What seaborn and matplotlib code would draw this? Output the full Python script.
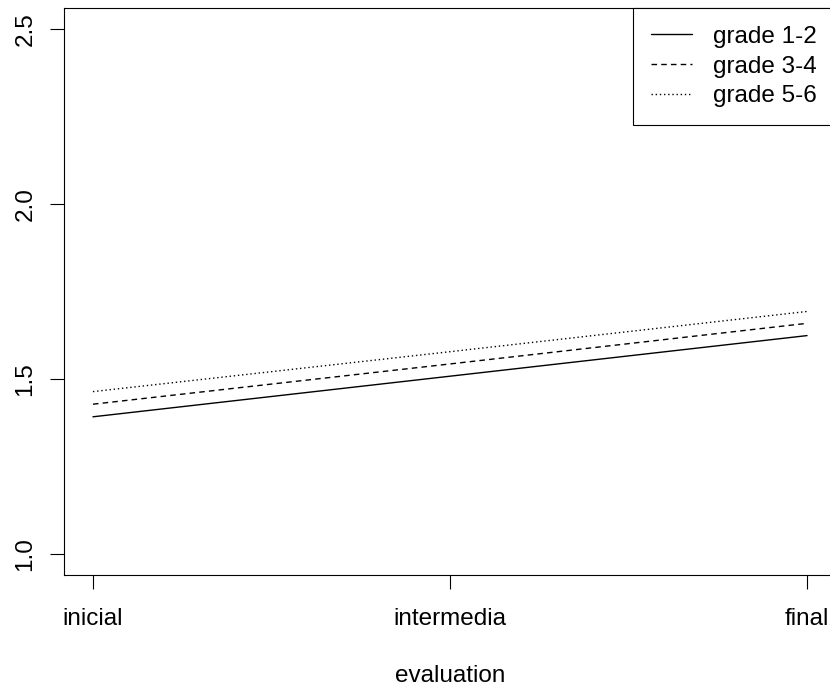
import pandas as pd
import matplotlib
matplotlib.use("Agg")
import matplotlib.pyplot as plt
import seaborn as sns

# values
evaluations = ["inicial", "intermedia", "final"]
grades = ["grade 1-2", "grade 3-4", "grade 5-6"]
grade_12 = [1.392, 1.508, 1.624]
grade_34 = [1.428, 1.543, 1.659]
grade_56 = [1.464, 1.578, 1.693]
y_ticks = [1.0, 1.5, 2.0, 2.5]

df = pd.DataFrame({
    "evaluation": evaluations * 3,
    "pos": [1, 2, 3] * 3,
    "score": grade_12 + grade_34 + grade_56,
    "grade": [g for g in grades for _ in evaluations],
})

sns.set_style("ticks")
plt.rcParams["font.family"] = ["Liberation Sans", "DejaVu Sans"]

fig = plt.figure(figsize=(8.3, 6.88), dpi=100)
ax = fig.add_axes([64.4 / 830, 113 / 688, 771.2 / 830, 567 / 688])

sns.lineplot(data=df, x="pos", y="score", style="grade", style_order=grades,
             dashes={"grade 1-2": "", "grade 3-4": (4, 3), "grade 5-6": (1, 2)},
             color="black", linewidth=1.0, ax=ax, legend=True)

ax.set_xlim(0.92, 3.08)
ax.set_ylim(0.94, 2.56)
ax.set_xticks([1, 2, 3])
ax.set_xticklabels(evaluations)
ax.set_yticks(y_ticks)
ax.set_yticklabels([f"{v:.1f}" for v in y_ticks], rotation=90, va="center")
ax.tick_params(axis="both", direction="out", length=10, width=0.8,
               labelsize=17.5, color="black", labelcolor="black",
               bottom=True, left=True)
ax.tick_params(axis="x", pad=14)
ax.tick_params(axis="y", pad=10)
ax.set_xlabel("evaluation", fontsize=17.5, labelpad=25, color="black")
ax.set_ylabel("")
for s in ax.spines.values():
    s.set_color("black")
    s.set_linewidth(0.8)
    s.set_visible(True)
# plot box runs past the right edge of the image
ax.spines["right"].set_visible(False)

leg = ax.legend(loc="upper left", bbox_to_anchor=((633 - 64.4) / 771.2, 1.0),
                borderaxespad=0, fontsize=17.5, frameon=True, fancybox=False,
                handlelength=1.7, handletextpad=0.85, borderpad=0.74,
                labelspacing=0.31, title=None)
leg.get_frame().set_edgecolor("black")
leg.get_frame().set_linewidth(0.8)
leg.get_frame().set_alpha(1)
for line in leg.get_lines():
    line.set_linewidth(1.0)
for t in leg.get_texts():
    t.set_color("black")

fig.savefig("out.png", dpi=100)
